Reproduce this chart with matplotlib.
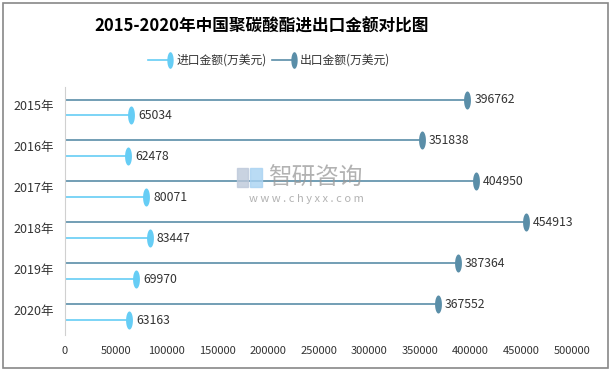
import numpy as np
import matplotlib.pyplot as plt
from matplotlib.patches import Rectangle
from matplotlib.lines import Line2D

plt.rcParams['font.family'] = ['Noto Sans CJK SC', 'DejaVu Sans']

# 数据
years = ['2015年', '2016年', '2017年', '2018年', '2019年', '2020年']
import_vals = [65034, 62478, 80071, 83447, 69970, 63163]
export_vals = [396762, 351838, 404950, 454913, 387364, 367552]
xticks = [0, 50000, 100000, 150000, 200000, 250000, 300000, 350000, 400000, 450000, 500000]

C_IMP = '#66cdf5'
C_EXP = '#5a8ea8'

# 椭圆形标记
t = np.linspace(0, 2 * np.pi, 40)
ellipse = np.column_stack([0.38 * np.cos(t), np.sin(t)])

fig = plt.figure(figsize=(6.12, 3.71), dpi=100)
ax = fig.add_axes([0.1062, 0.097, 0.8284, 0.6685])

y = np.arange(len(years))
off = 0.195
ax.hlines(y - off, 0, export_vals, color=C_EXP, lw=1.2, zorder=2)
ax.hlines(y + off, 0, import_vals, color=C_IMP, lw=1.2, zorder=2)
ax.plot(export_vals, y - off, ls='none', marker=ellipse, ms=13, mew=0, color=C_EXP, zorder=3)
ax.plot(import_vals, y + off, ls='none', marker=ellipse, ms=13, mew=0, color=C_IMP, zorder=3)

for i in range(len(years)):
    ax.annotate(str(export_vals[i]), (export_vals[i], y[i] - off), xytext=(5, 0),
                textcoords='offset points', va='center', fontsize=8.8, color='#333333')
    ax.annotate(str(import_vals[i]), (import_vals[i], y[i] + off), xytext=(5, 0),
                textcoords='offset points', va='center', fontsize=8.8, color='#333333')

ax.set_xlim(0, 500000)
ax.set_ylim(5.55, -0.5)
ax.set_xticks(xticks)
ax.set_xticklabels([str(v) for v in xticks])
ax.set_yticks(y - 0.07)
ax.set_yticklabels(years)
ax.tick_params(length=0, colors='#333333')
ax.tick_params(axis='x', pad=8, labelsize=8)
ax.tick_params(axis='y', pad=8, labelsize=9)
for s in ['top', 'right', 'bottom']:
    ax.spines[s].set_visible(False)
ax.spines['left'].set_color('#d0d0d0')

# 图例（手动绘制，标记在线段右端）
ly = 1 - 60 / 371
for x0, x1, c, tx, label in [(148, 170, C_IMP, 177, '进口金额(万美元)'),
                            (272, 294, C_EXP, 300, '出口金额(万美元)')]:
    fig.add_artist(Line2D([x0 / 612, x1 / 612], [ly, ly], color=c, lw=1.2))
    fig.add_artist(Line2D([x1 / 612], [ly], marker=ellipse, ms=12, mew=0, color=c))
    fig.text(tx / 612, ly, label, fontsize=8.5, color='#333333', va='center')

fig.text(0.427, 0.927, '2015-2020年中国聚碳酸酯进出口金额对比图', ha='center', va='center',
         fontsize=12, fontweight='bold')

# 水印
fig.patches.append(Rectangle((0.387, 0.496), 0.019, 0.051, transform=fig.transFigure,
                             color='#bcc8da', alpha=0.8, zorder=5))
fig.patches.append(Rectangle((0.409, 0.496), 0.019, 0.051, transform=fig.transFigure,
                             color='#a8d2f2', alpha=0.8, zorder=5))
fig.text(0.438, 0.52, '智研咨询', fontsize=17, color='#999999', va='center', alpha=0.75, zorder=5)
fig.text(0.5, 0.464, 'w w w . c h y x x . c o m', fontsize=8, color='#999999',
         ha='center', va='center', alpha=0.75, zorder=5)

# 外框
fig.patches.append(Rectangle((0.005, 0.008), 0.989, 0.984, transform=fig.transFigure,
                             fill=False, edgecolor='#888888', lw=1.2))

plt.savefig('out.png', dpi=100)
